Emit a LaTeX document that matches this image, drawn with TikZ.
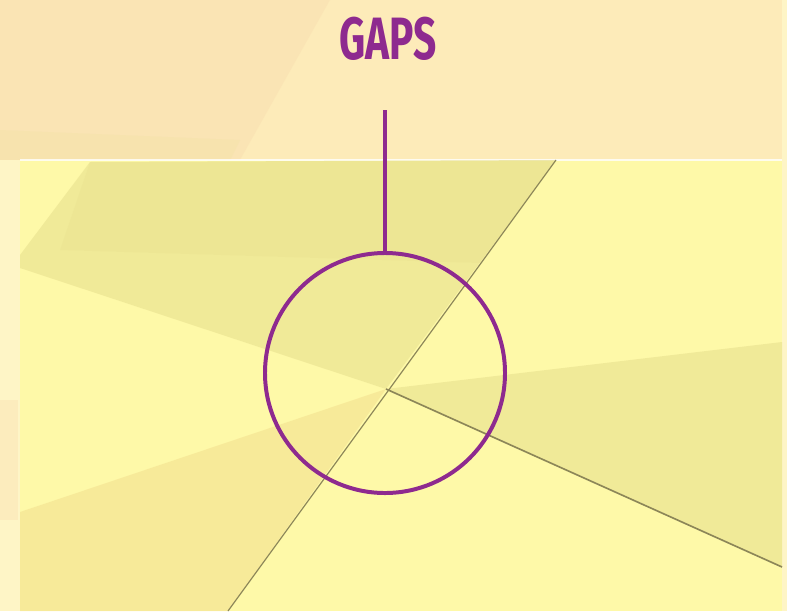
\documentclass[tikz,border=0pt]{standalone}
\usepackage{fontspec}
\newfontfamily\gapsfont{Fira Sans}
\definecolor{gapspurple}{HTML}{8E2A8F}
\definecolor{bandpeach}{HTML}{FDEBB9}
\definecolor{banddeep}{HTML}{F9DFB0}
\definecolor{stripcream}{HTML}{FEF5C6}
\definecolor{panelyellow}{HTML}{FEF9A8}
\definecolor{shadeolive}{HTML}{E6DE8C}
\definecolor{shadeorange}{HTML}{F3DE8E}
\definecolor{seamgray}{HTML}{8C8658}
\tikzset{
  seam/.style={seamgray, line width=1pt},
  marker/.style={gapspurple, line width=3.4pt},
  shade/.style={fill=#1, draw=none, fill opacity=0.55}
}
\begin{document}
\begin{tikzpicture}[x=0.03cm,y=-0.03cm]
\useasboundingbox (0,0) rectangle (787,611);
% background band and panel
\fill[bandpeach] (0,0) rectangle (787,611);
\fill[shade=banddeep, fill opacity=0.5] (0,0) -- (330,0) -- (240,160) -- (0,160) -- cycle;
\fill[shade=shadeolive, fill opacity=0.15] (0,130) -- (240,140) -- (230,160) -- (0,160) -- cycle;
\fill[stripcream] (0,160) rectangle (20,611);
\fill[shade=banddeep, fill opacity=0.4] (0,400) rectangle (18,520);
\fill[stripcream] (782,0) rectangle (787,611);
\fill[panelyellow] (20,160) rectangle (782,611);
\draw[white, line width=1.2pt, opacity=0.8] (20,160) -- (782,160);
\def\xC{386};
\def\yC{389};
\coordinate (C) at (\xC,\yC);
\coordinate (A) at (556,160);
\coordinate (B) at (228,611);
\coordinate (D) at (782,567);
% shaded facets
\fill[shade=shadeolive] (20,255) -- (90,162) -- (A) -- (C) -- (20,268) -- cycle;
\fill[shade=shadeolive, fill opacity=0.25] (90,162) -- (A) -- (480,263) -- (60,250) -- cycle;
\fill[shade=shadeorange] (20,512) -- (C) -- (B) -- (20,611) -- cycle;
\fill[shade=shadeolive] (C) -- (782,342) -- (782,530) -- (D) -- cycle;
% seams
\draw[seam] (A) -- (B);
\draw[seam, line width=1.4pt] (C) -- (D);
% gap marker
\node[draw=gapspurple, line width=3.4pt, circle, minimum size=7.2cm, inner sep=0pt] (ring) at (385,373) {};
\coordinate (pin) at (385,110);
\draw[marker] (pin) -- (ring.north);
\node[gapspurple, inner sep=0pt, xscale=0.68] (title) at (388,39) {\gapsfont\bfseries\fontsize{51}{51}\selectfont GAPS};
\end{tikzpicture}
\end{document}
